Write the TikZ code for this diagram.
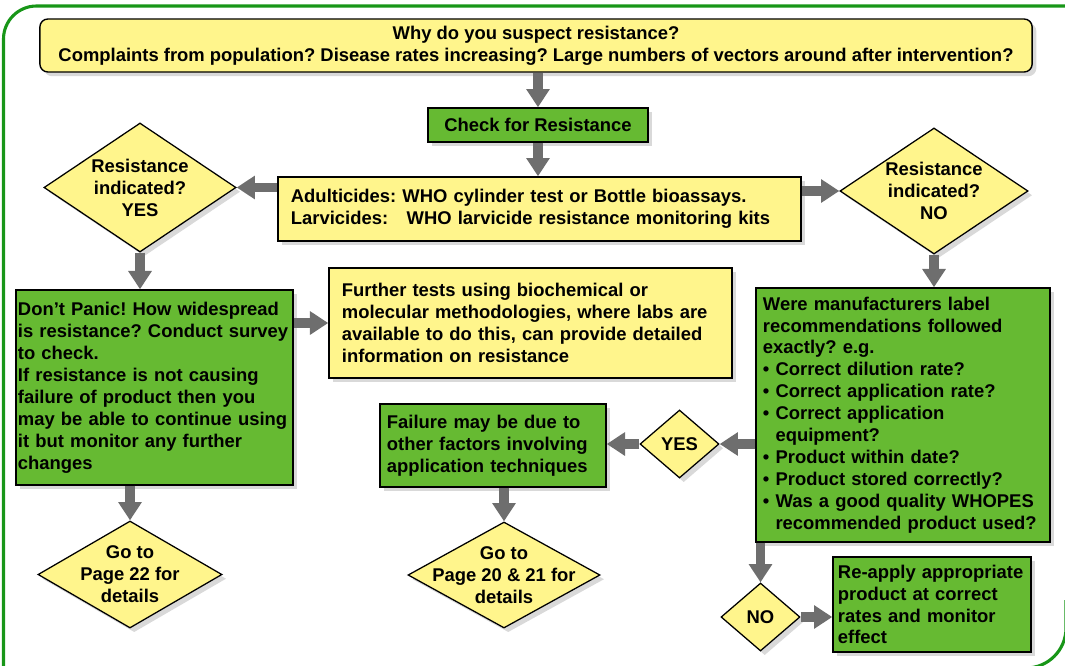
\documentclass[tikz,border=0pt]{standalone}
\usepackage{fontspec}
\setmainfont{Liberation Sans}
\usetikzlibrary{shapes.geometric,arrows.meta,shadows}
\definecolor{boxyellow}{RGB}{255,245,140}
\definecolor{boxgreen}{RGB}{102,186,50}
\definecolor{arrowgrey}{RGB}{110,110,110}
\definecolor{framegreen}{RGB}{24,150,24}
\frenchspacing
\begin{document}
\begin{tikzpicture}[
        x=0.025cm, y=-0.025cm,
        every node/.style={font=\fontsize{13.1}{15.6}\selectfont\bfseries},
        ybox/.style={rectangle, draw=black, line width=1pt, fill=boxyellow, align=left,
            drop shadow={shadow xshift=3pt, shadow yshift=-3pt, opacity=0.3}},
        gbox/.style={ybox, fill=boxgreen},
        dia/.style={diamond, draw=black, line width=0.9pt, fill=boxyellow, align=center, inner sep=-10pt,
            drop shadow={shadow xshift=3pt, shadow yshift=-3pt, opacity=0.3}},
        arrow/.style={-{Triangle[width=16pt,length=13pt]}, line width=7pt, draw=arrowgrey},
        frame/.style={draw=framegreen, line width=2.2pt}
    ]
    \useasboundingbox (0,0) rectangle (1065,665);
    \draw[frame, rounded corners=0.825cm] (3.5,700) |- (1075,6);
    \draw[frame, rounded corners=1cm] (1066,600) |- (1000,668);

    \node[ybox, rounded corners=0.2cm, align=center, minimum width=24.8cm, minimum height=1.325cm] (why) at (536,45.5)
        {Why do you suspect resistance?\\Complaints from population? Disease rates increasing? Large numbers of vectors around after intervention?};
    \node[gbox, align=center, minimum width=5.5cm, minimum height=0.85cm] (check) at (538,125) {Check for Resistance};
    \node[ybox, text width=12.425cm, inner xsep=0.325cm, minimum height=1.6cm] (adult) at (539.5,209)
        {Adulticides: WHO cylinder test or Bottle bioassays.\\Larvicides:\hspace{1em}WHO larvicide resistance monitoring kits};
    \node[dia, aspect=1.49, minimum width=4.8cm, minimum height=3.225cm] (yes1) at (140,187.5) {Resistance\\indicated?\\YES};
    \node[dia, aspect=1.49, minimum width=4.7cm, minimum height=3.15cm] (no1) at (934,191) {Resistance\\indicated?\\NO};
    \node[gbox, text width=6.825cm, inner xsep=0.05cm, minimum height=4.875cm] (panic) at (154.5,387.5)
        {Don’t Panic! How widespread\\is resistance? Conduct survey\\to check.\\If resistance is not causing\\failure of product then you\\may be able to continue using\\it but monitor any further\\changes};
    \node[ybox, text width=9.425cm, inner xsep=0.325cm, minimum height=2.75cm] (further) at (530.5,323)
        {Further tests using biochemical or\\molecular methodologies, where labs are\\available to do this, can provide detailed\\information on resistance};
    \node[gbox, text width=7.0cm, inner xsep=0.175cm, minimum height=6.35cm] (label) at (903,415)
        {Were manufacturers label\\recommendations followed\\exactly? e.g.\\• Correct dilution rate?\\• Correct application rate?\\• Correct application\\\phantom{• }equipment?\\• Product within date?\\• Product stored correctly?\\• Was a good quality WHOPES\\\phantom{• }recommended product used?};
    \node[dia, aspect=1.16, minimum width=1.975cm, minimum height=1.7cm] (yes2) at (679.5,444) {YES};
    \node[gbox, text width=5.3cm, inner xsep=0.175cm, minimum height=2.075cm] (fail) at (493,445.5)
        {Failure may be due to\\other factors involving\\application techniques};
    \node[dia, aspect=1.72, minimum width=4.6cm, minimum height=2.675cm] (goto1) at (130,574.5) {Go to\\Page 22 for\\details};
    \node[dia, aspect=1.81, minimum width=4.8cm, minimum height=2.65cm] (goto2) at (504,575) {Go to\\Page 20 \& 21 for\\details};
    \node[dia, aspect=1.16, minimum width=1.975cm, minimum height=1.7cm] (no2) at (760.5,617) {NO};
    \node[gbox, text width=4.7cm, inner xsep=0.125cm, minimum height=2.375cm] (reapply) at (932,604.5)
        {Re-apply appropriate\\product at correct\\rates and monitor\\effect};

    \draw[arrow] (why.south -| check.north) -- (check.north);
    \draw[arrow] (check.south) -- (check.south |- adult.north);
    \draw[arrow] (adult.west |- yes1.east) -- (yes1.east);
    \draw[arrow] (adult.east |- no1.west) -- (no1.west);
    \draw[arrow] (yes1.south) -- (yes1.south |- panic.north);
    \draw[arrow] (panic.east |- further.west) -- (further.west);
    \draw[arrow] (no1.south) -- (no1.south |- label.north);
    \draw[arrow] (label.west |- yes2.east) -- (yes2.east);
    \draw[arrow] (yes2.west) -- (yes2.west -| fail.east);
    \draw[arrow] (goto1.north |- panic.south) -- (goto1.north);
    \draw[arrow] (goto2.north |- fail.south) -- (goto2.north);
    \draw[arrow] (no2.north |- label.south) -- (no2.north);
    \draw[arrow] (no2.east) -- (no2.east -| reapply.west);
\end{tikzpicture}
\end{document}
